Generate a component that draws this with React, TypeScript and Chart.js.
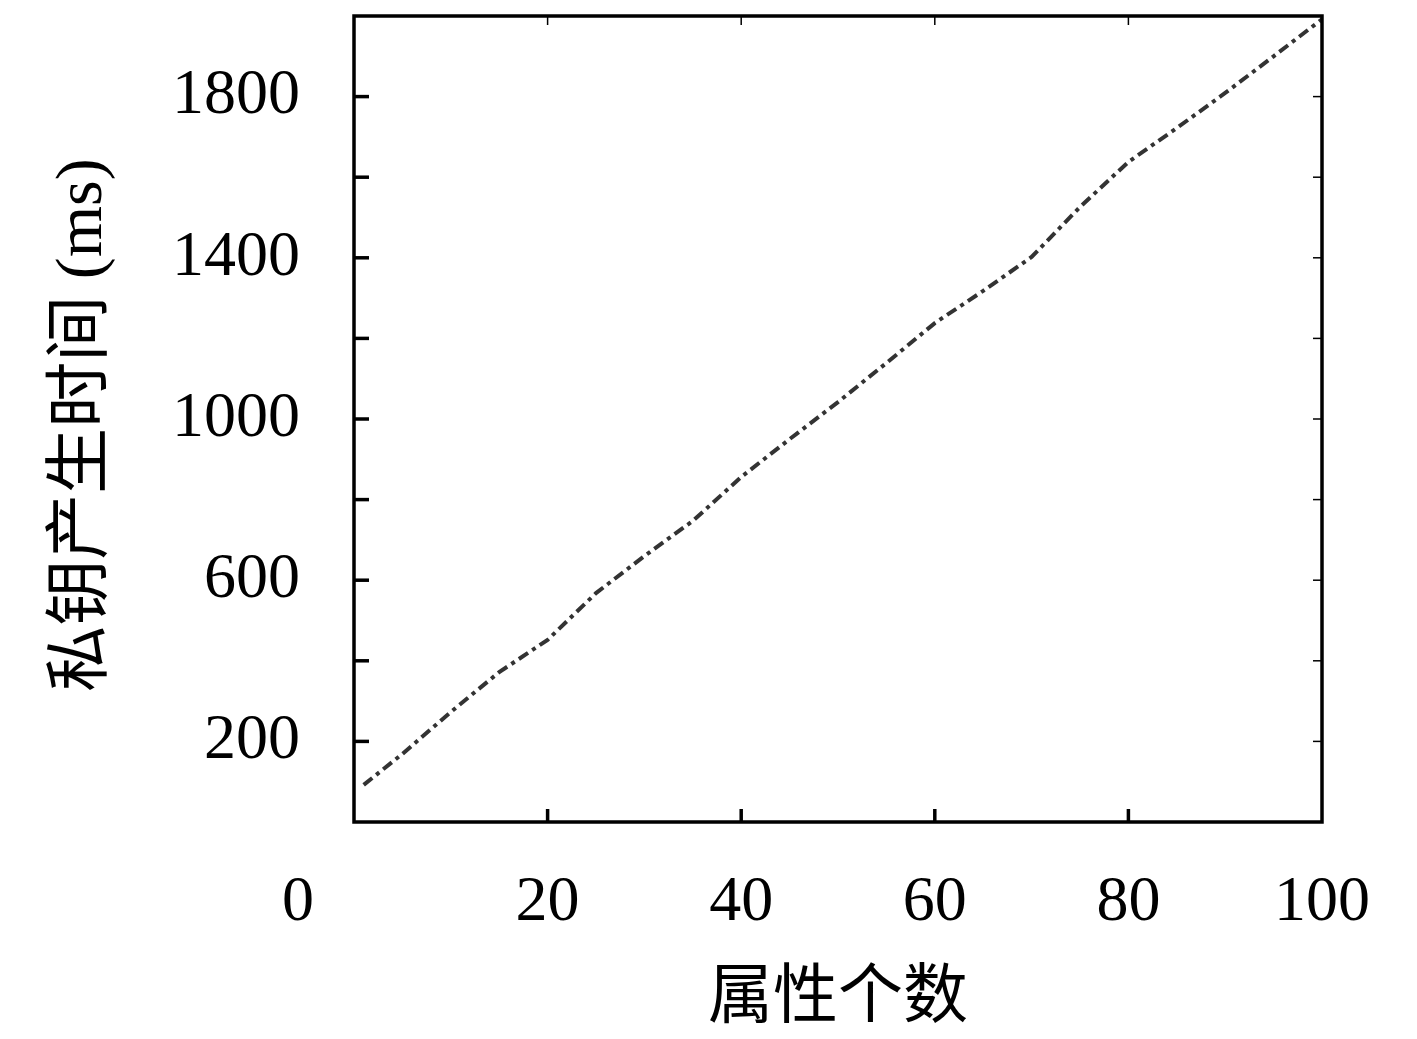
import { useEffect, useRef } from "react";
import { Chart, registerables } from "chart.js";

Chart.register(...registerables);

const attributeCounts = [1, 5, 10, 15, 20, 25, 30, 35, 40, 45, 50, 55, 60, 65, 70, 75, 80, 85, 90, 95, 100];
const keyGenTimes = [92, 169, 273, 372, 452, 568, 660, 747, 856, 950, 1042, 1139, 1238, 1318, 1402, 1526, 1638, 1722, 1809, 1900, 1992];
const xTickValues = [0, 20, 40, 60, 80, 100];
const yLabelValues = [200, 600, 1000, 1400, 1800];
const xTitle = "属性个数";
const yTitle = "私钥产生时间 (ms)";

const SERIF = '"Liberation Serif", "Noto Sans CJK SC", serif';

const framePlugin = {
  id: "framePlugin",
  afterDatasetsDraw(chart: any) {
    const { ctx, chartArea: a, scales } = chart;
    const x = scales.x;
    const y = scales.y;
    const line = (x1: number, y1: number, x2: number, y2: number) => {
      ctx.beginPath();
      ctx.moveTo(x1, y1);
      ctx.lineTo(x2, y2);
      ctx.stroke();
    };
    ctx.save();
    ctx.strokeStyle = "#000";
    ctx.setLineDash([]);
    y.ticks.forEach((t: any) => {
      const py = y.getPixelForValue(t.value);
      if (py <= a.top + 1 || py >= a.bottom - 1) return;
      ctx.lineWidth = 3.5;
      line(a.left, py, a.left + 15, py);
      ctx.lineWidth = 1.5;
      line(a.right - 9, py, a.right, py);
    });
    x.ticks.forEach((t: any) => {
      const px = x.getPixelForValue(t.value);
      if (px <= a.left + 1 || px >= a.right - 1) return;
      ctx.lineWidth = 3.5;
      line(px, a.bottom, px, a.bottom - 13);
      ctx.lineWidth = 1.5;
      line(px, a.top, px, a.top + 9);
    });
    ctx.lineWidth = 3.5;
    ctx.strokeRect(a.left, a.top, a.right - a.left, a.bottom - a.top);

    ctx.fillStyle = "#000";
    ctx.textAlign = "center";
    ctx.textBaseline = "middle";
    ctx.font = `64px ${SERIF}`;
    xTickValues.forEach((v) => {
      const px = x.getPixelForValue(v) + (v === 0 ? -56 : 0);
      ctx.fillText(String(v), px, a.bottom + 81);
    });

    ctx.font = `65px ${SERIF}`;
    ctx.fillText(xTitle, (a.left + a.right) / 2, a.bottom + 178);

    ctx.save();
    ctx.translate(84, (a.top + a.bottom) / 2 + 6);
    ctx.rotate(-Math.PI / 2);
    ctx.font = `66px ${SERIF}`;
    ctx.fillText(yTitle, 0, 0);
    ctx.restore();

    ctx.restore();
  },
};

export default function App() {
  const ref = useRef<HTMLCanvasElement | null>(null);

  useEffect(() => {
    if (!ref.current) return;
    const chart = new Chart(ref.current, {
      type: "line",
      data: {
        datasets: [
          {
            data: attributeCounts.map((v, i) => ({ x: v, y: keyGenTimes[i] })),
            borderColor: "#333333",
            borderWidth: 4,
            borderDash: [11, 5, 4, 5],
            pointRadius: 0,
            fill: false,
            tension: 0,
          },
        ],
      },
      options: {
        animation: false,
        responsive: false,
        maintainAspectRatio: false,
        layout: { padding: { top: 16, right: 95, left: 0, bottom: 0 } },
        plugins: { legend: { display: false }, tooltip: { enabled: false } },
        scales: {
          x: {
            type: "linear",
            min: 0,
            max: 100,
            border: { display: false },
            grid: { display: false, drawTicks: false },
            ticks: { display: false, stepSize: 20 },
            afterFit: (s: any) => {
              s.height = 217;
              s.paddingLeft = 0;
              s.paddingRight = 0;
              s.paddingTop = 0;
              s.paddingBottom = 0;
            },
          },
          y: {
            type: "linear",
            min: 0,
            max: 2000,
            border: { display: false },
            grid: { display: false, drawTicks: false },
            ticks: {
              stepSize: 200,
              autoSkip: false,
              padding: 54,
              color: "#000",
              font: { family: SERIF, size: 64 },
              callback: (v: any) => (yLabelValues.includes(Number(v)) ? String(v) : ""),
            },
            afterFit: (s: any) => {
              s.width = 354;
              s.paddingTop = 0;
              s.paddingBottom = 0;
              s.paddingLeft = 0;
              s.paddingRight = 0;
            },
          },
        },
      },
      plugins: [framePlugin],
    });
    return () => chart.destroy();
  }, []);

  return (
    <div style={{ position: "absolute", left: 0, top: 0, width: 1417, height: 1039, background: "#fff" }}>
      <canvas ref={ref} width={1417} height={1039} />
    </div>
  );
}
